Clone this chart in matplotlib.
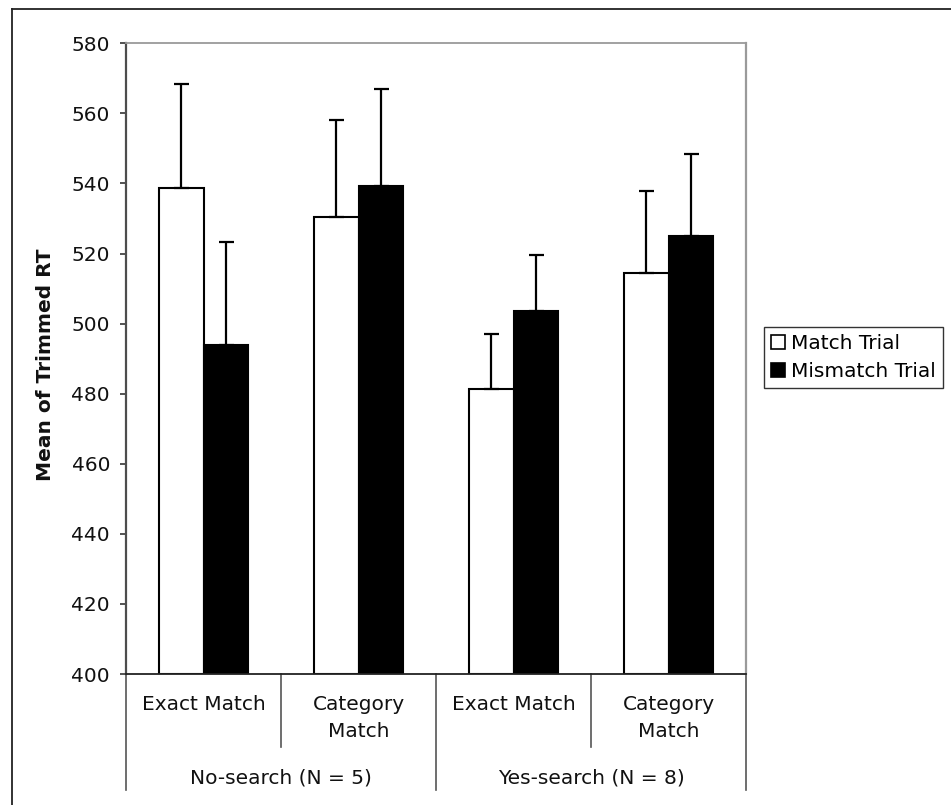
import matplotlib
matplotlib.use("Agg")
import matplotlib.pyplot as plt
from matplotlib.lines import Line2D
from matplotlib.patches import Patch
import matplotlib.transforms as mtransforms

# Data: mean trimmed RT per condition with upper error bars
groups = ["No-search (N = 5)", "Yes-search (N = 8)"]
conditions = ["Exact Match", "Category\nMatch", "Exact Match", "Category\nMatch"]
series = ["Match Trial", "Mismatch Trial"]
match_mean = [538.8, 530.5, 481.2, 514.4]
match_err = [29.7, 27.7, 15.9, 23.5]
mismatch_mean = [493.8, 539.4, 503.7, 524.9]
mismatch_err = [29.6, 27.5, 15.8, 23.6]
y_ticks = [400, 420, 440, 460, 480, 500, 520, 540, 560, 580]

W, H = 951, 805
FS = 14.5
fig = plt.figure(figsize=(W / 100, H / 100), dpi=100)
plt.rcParams["font.family"] = ["DejaVu Sans"]

# plot area in pixel coordinates
px_left, px_right, px_top, px_bottom = 126, 746, 43.3, 674
ax = fig.add_axes([px_left / W, 1 - px_bottom / H,
                   (px_right - px_left) / W, (px_bottom - px_top) / H])

n = len(conditions)
centers = [i + 0.5 for i in range(n)]
bw = 0.29
off = 0.145

ax.bar([c - off for c in centers], [m - 400 for m in match_mean], bottom=400,
       width=bw, color="white", edgecolor="black", linewidth=1.5, zorder=2)
ax.bar([c + off for c in centers], [m - 400 for m in mismatch_mean], bottom=400,
       width=bw, color="black", edgecolor="black", linewidth=1.5, zorder=2)

for xs, means, errs in (([c - off for c in centers], match_mean, match_err),
                        ([c + off for c in centers], mismatch_mean, mismatch_err)):
    ax.errorbar(xs, means, yerr=[[0] * len(errs), errs], fmt="none",
                ecolor="black", elinewidth=1.6, capsize=5.4, capthick=1.6,
                zorder=3)

ax.set_xlim(0, n)
ax.set_ylim(400, 580)
ax.set_yticks(y_ticks)
ax.set_yticklabels([str(t) for t in y_ticks], fontsize=FS, color="#111111")
ax.tick_params(axis="y", length=4.5, width=1.3, color="#444444", pad=7)
ax.set_xticks([])

ax.spines["left"].set_color("#4d4d4d")
ax.spines["left"].set_linewidth(1.6)
ax.spines["top"].set_color("#9a9a9a")
ax.spines["top"].set_linewidth(1.3)
ax.spines["right"].set_color("#9a9a9a")
ax.spines["right"].set_linewidth(1.6)
ax.spines["bottom"].set_color("#222222")
ax.spines["bottom"].set_linewidth(1.3)

ax_h = px_bottom - px_top
def yfrac(py):
    return -(py - px_bottom) / ax_h

trans = mtransforms.blended_transform_factory(ax.transData, ax.transAxes)

# category separators below the axis
for x in range(n + 1):
    end = yfrac(790) if x % 2 == 0 else yfrac(747)
    ax.add_line(Line2D([x, x], [0, end], transform=trans, color="#555555",
                       linewidth=1.2, clip_on=False))

for c, lab in zip(centers, conditions):
    ax.text(c, yfrac(695), lab, transform=trans, ha="center", va="top",
            fontsize=FS, color="#111111", linespacing=1.5)

for g, lab in enumerate(groups):
    ax.text(2 * g + 1, yfrac(778), lab, transform=trans, ha="center",
            va="center", fontsize=FS, color="#111111")

ax.text((45 - px_left) / (px_right - px_left), 0.49, "Mean of Trimmed RT",
        transform=ax.transAxes, rotation=90, ha="center", va="center",
        fontsize=FS, fontweight="bold", color="#111111")

handles = [Patch(facecolor="white", edgecolor="black", linewidth=1.2),
           Patch(facecolor="black", edgecolor="black", linewidth=1.2)]
leg = fig.legend(handles, series, loc="upper left",
                 bbox_to_anchor=(764 / W, 1 - 327 / H),
                 frameon=True, fancybox=False, fontsize=FS,
                 handlelength=0.7, handleheight=0.7, handletextpad=0.3,
                 borderpad=0.35, labelspacing=0.45, borderaxespad=0)
leg.get_frame().set_edgecolor("black")
leg.get_frame().set_linewidth(1.0)

# outer chart border (top and left edges)
fig.add_artist(Line2D([12 / W, 1.0], [1 - 9 / H, 1 - 9 / H],
                      transform=fig.transFigure, color="#222222", linewidth=1.3))
fig.add_artist(Line2D([12 / W, 12 / W], [0.0, 1 - 9 / H],
                      transform=fig.transFigure, color="#222222", linewidth=1.3))

fig.savefig("out.png", dpi=100, facecolor="white")
